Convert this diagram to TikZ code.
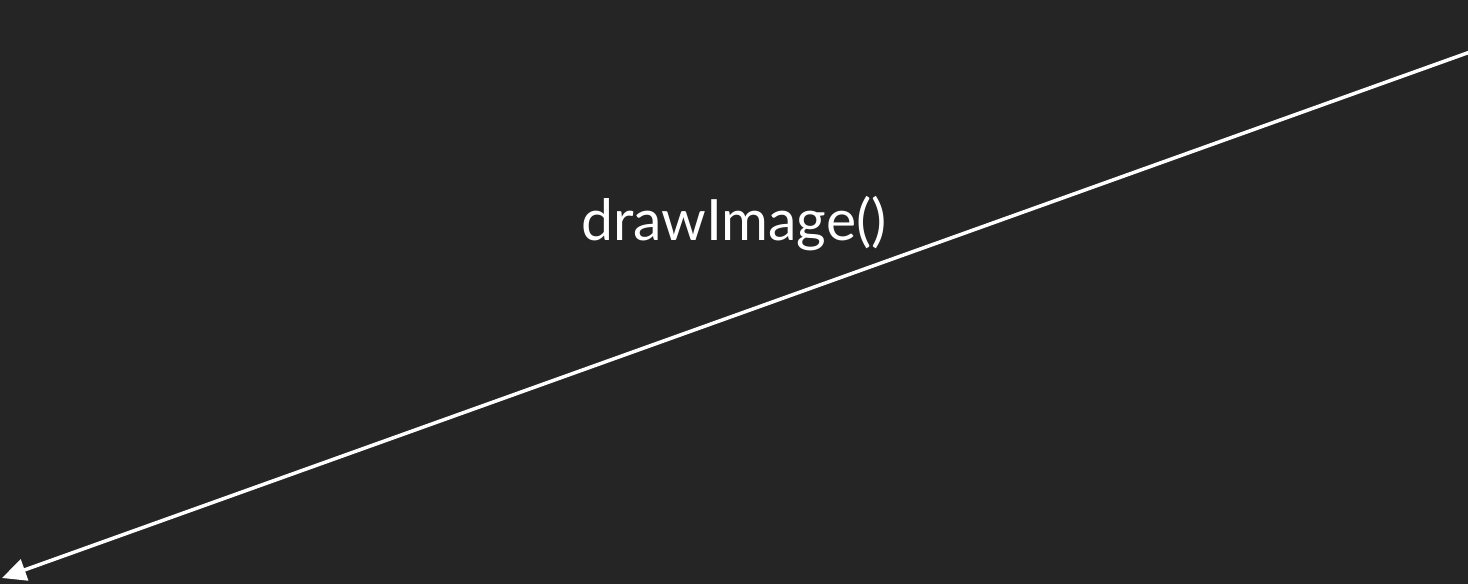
\documentclass[tikz,border=0pt]{standalone}
\usepackage{fontspec}
\setmainfont{Lato}
\usetikzlibrary{arrows.meta}
\definecolor{bg}{HTML}{252525}
\begin{document}
\begin{tikzpicture}[x=1pt,y=-1pt,
  conn/.style={draw=white,line width=3.5pt,-{Triangle[length=24pt,width=22pt]}},
  lbl/.style={text=white,font=\fontsize{57}{68}\selectfont,anchor=base,inner sep=0pt}]
\fill[bg] (0,0) rectangle (1468,584);
\useasboundingbox (0,0) rectangle (1468,584);
\coordinate (src) at (1470,52);
\coordinate (dst) at (2,578);
\draw[conn] (src) -- (dst);
\node[lbl] (label) at (734,240) {drawImage()};
\end{tikzpicture}
\end{document}
